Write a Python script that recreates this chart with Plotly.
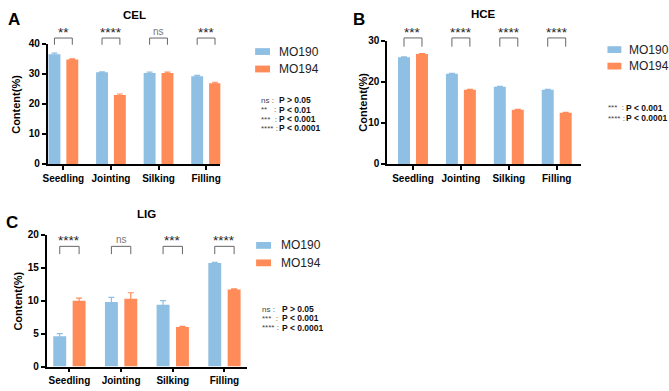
import plotly.graph_objects as go

W, H = 669, 391

stages = ["Seedling", "Jointing", "Silking", "Filling"]
genotypes = ["MO190", "MO194"]

cel_mo190 = [36.5, 30.5, 30.3, 29.2]
cel_mo190_err = [0.4, 0.2, 0.3, 0.3]
cel_mo194 = [34.8, 23.0, 30.3, 26.9]
cel_mo194_err = [0.2, 0.3, 0.3, 0.3]
cel_sig = ["**", "****", "ns", "***"]

hce_mo190 = [26.0, 22.0, 18.8, 18.1]
hce_mo190_err = [0.1, 0.1, 0.1, 0.1]
hce_mo194 = [26.8, 18.1, 13.2, 12.5]
hce_mo194_err = [0.1, 0.1, 0.1, 0.1]
hce_sig = ["***", "****", "****", "****"]

lig_mo190 = [4.6, 9.8, 9.4, 15.7]
lig_mo190_err = [0.4, 0.7, 0.6, 0.1]
lig_mo194 = [10.0, 10.3, 6.0, 11.7]
lig_mo194_err = [0.4, 0.9, 0.1, 0.1]
lig_sig = ["****", "ns", "***", "****"]

cel_keys = [("ns :", "P > 0.05"), ("**   :", "P < 0.01"), ("***  :", "P < 0.001"), ("**** :", "P < 0.0001")]
hce_keys = [("***  :", "P < 0.001"), ("**** :", "P < 0.0001")]
lig_keys = [("ns :", "P > 0.05"), ("***  :", "P < 0.001"), ("**** :", "P < 0.0001")]

BLUE = "#8FBFE3"
ORANGE = "#FF8B59"
FONT = "Liberation Sans, Arial, sans-serif"


def fx(x):
    return x / W


def fy(y):
    return 1 - y / H


panels = [
    dict(name="CEL", letter="A", ax="", a=cel_mo190, ae=cel_mo190_err, b=cel_mo194, be=cel_mo194_err,
         sig=cel_sig, keys=cel_keys,
         xdom=(43, 217), xr=(-0.33, 3.3), ydom=(163, 39), yr=(0, 40), dtick=10,
         title=(130, 9), letter_pos=(9, 14), ytitle=(11, 101),
         br_top=1.048, br_bot=0.992, star_y=1.105,
         leg_x=(252, 267, 274), leg_y=(47, 65), key_x=(256, 274), key_y=[97, 107, 117, 126]),
    dict(name="HCE", letter="B", ax="2", a=hce_mo190, ae=hce_mo190_err, b=hce_mo194, be=hce_mo194_err,
         sig=hce_sig, keys=hce_keys,
         xdom=(385, 580), xr=(-0.54, 3.5), ydom=(163, 36), yr=(0, 30), dtick=10,
         title=(482, 8), letter_pos=(357, 14), ytitle=(361, 99.5),
         br_top=1.024, br_bot=0.953, star_y=1.08,
         leg_x=(607, 621, 627), leg_y=(45, 62), key_x=(606, 624), key_y=[105, 116]),
    dict(name="LIG", letter="C", ax="3", a=lig_mo190, ae=lig_mo190_err, b=lig_mo194, be=lig_mo194_err,
         sig=lig_sig, keys=lig_keys,
         xdom=(42, 244), xr=(-0.44, 3.44), ydom=(372, 236), yr=(0, 20), dtick=5,
         title=(143, 215), letter_pos=(7, 223), ytitle=(13, 304),
         br_top=0.912, br_bot=0.853, star_y=0.965,
         leg_x=(253, 268, 276), leg_y=(247, 265), key_x=(257, 277), key_y=[313, 322, 332]),
]

fig = go.Figure()
shapes = []
annotations = []
layout = {}

for p in panels:
    xa = "x" + p["ax"]
    ya = "y" + p["ax"]
    pos = list(range(len(stages)))
    for vals, errs, color, name, off in [(p["a"], p["ae"], BLUE, genotypes[0], -0.3125),
                                         (p["b"], p["be"], ORANGE, genotypes[1], 0.0625)]:
        fig.add_trace(go.Bar(
            x=pos, y=vals, name=name, width=0.25, offset=off,
            marker=dict(color=color, line=dict(width=0)),
            error_y=dict(type="data", array=errs, color=color, thickness=1.2, width=3),
            xaxis=xa, yaxis=ya, showlegend=False,
        ))
    axis_common = dict(showline=True, linecolor="black", linewidth=1.5, ticks="outside",
                       ticklen=4, tickwidth=1.5, tickcolor="black", showgrid=False, zeroline=False,
                       tickfont=dict(family=FONT, size=10, color="black", weight="bold"))
    layout["xaxis" + p["ax"]] = dict(axis_common, domain=[fx(p["xdom"][0]), fx(p["xdom"][1])],
                                     range=list(p["xr"]), tickvals=pos, ticktext=stages,
                                     anchor=ya, fixedrange=True)
    layout["yaxis" + p["ax"]] = dict(axis_common, domain=[fy(p["ydom"][0]), fy(p["ydom"][1])],
                                     range=list(p["yr"]), dtick=p["dtick"], anchor=xa,
                                     fixedrange=True)
    # significance brackets
    for i, s in enumerate(p["sig"]):
        x0, x1 = i - 0.1875, i + 0.1875
        for (a0, b0, a1, b1) in [(x0, p["br_bot"], x0, p["br_top"]),
                                 (x0, p["br_top"], x1, p["br_top"]),
                                 (x1, p["br_top"], x1, p["br_bot"])]:
            shapes.append(dict(type="line", xref=xa, yref=ya + " domain",
                               x0=a0, y0=b0, x1=a1, y1=b1,
                               line=dict(color="#666666", width=1)))
        is_ns = s == "ns"
        annotations.append(dict(
            x=i, y=p["star_y"] + (0.0 if is_ns else -0.01), xref=xa, yref=ya + " domain",
            text=s, showarrow=False, xanchor="center", yanchor="middle",
            font=dict(family=FONT, size=10 if is_ns else 13.5,
                      color="#777777" if is_ns else "#222222")))
    # titles
    annotations.append(dict(x=fx(p["title"][0]), y=fy(p["title"][1]), xref="paper", yref="paper",
                            text="<b>%s</b>" % p["name"], showarrow=False,
                            xanchor="center", yanchor="middle",
                            font=dict(family=FONT, size=11.5, color="black")))
    annotations.append(dict(x=fx(p["letter_pos"][0]), y=fy(p["letter_pos"][1]), xref="paper",
                            yref="paper", text="<b>%s</b>" % p["letter"], showarrow=False,
                            xanchor="center", yanchor="middle",
                            font=dict(family=FONT, size=17, color="black")))
    annotations.append(dict(x=fx(p["ytitle"][0]), y=fy(p["ytitle"][1]), xref="paper", yref="paper",
                            text="<b>Content(%)</b>", showarrow=False, textangle=-90,
                            xanchor="center", yanchor="middle",
                            font=dict(family=FONT, size=11, color="black")))
    # legend
    for name, color, yy in [(genotypes[0], BLUE, p["leg_y"][0]), (genotypes[1], ORANGE, p["leg_y"][1])]:
        shapes.append(dict(type="rect", xref="paper", yref="paper",
                           x0=fx(p["leg_x"][0]), x1=fx(p["leg_x"][1]),
                           y0=fy(yy + 3.5), y1=fy(yy - 3.5),
                           fillcolor=color, line=dict(width=0)))
        annotations.append(dict(x=fx(p["leg_x"][2]), y=fy(yy), xref="paper", yref="paper",
                                text=name, showarrow=False, xanchor="left", yanchor="middle",
                                font=dict(family=FONT, size=12, color="#222222")))
    # p-value key
    for (sym, txt), yy in zip(p["keys"], p["key_y"]):
        annotations.append(dict(x=fx(p["key_x"][0]), y=fy(yy), xref="paper", yref="paper",
                                text=sym, showarrow=False, xanchor="left", yanchor="middle",
                                font=dict(family=FONT, size=8, color="#444444")))
        annotations.append(dict(x=fx(p["key_x"][1]), y=fy(yy), xref="paper", yref="paper",
                                text="<b>%s</b>" % txt, showarrow=False, xanchor="left",
                                yanchor="middle",
                                font=dict(family=FONT, size=8.5, color="#111111")))

fig.update_layout(
    width=W, height=H, margin=dict(l=0, r=0, t=0, b=0),
    paper_bgcolor="white", plot_bgcolor="white",
    barmode="overlay", showlegend=False,
    font=dict(family=FONT),
    shapes=shapes, annotations=annotations,
    **layout,
)

fig.write_html(
    "out.html",
    config={"displayModeBar": False},
    post_script="document.body.style.margin='0';document.body.style.padding='0';"
                "document.body.style.overflow='hidden';",
)
